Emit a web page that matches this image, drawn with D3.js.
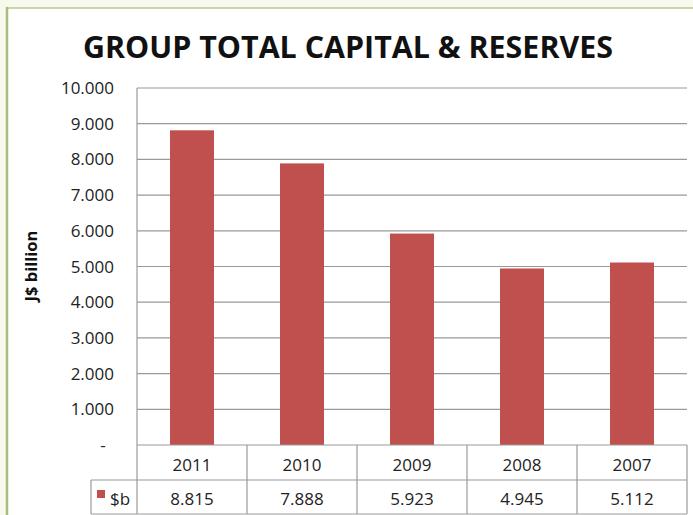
<!DOCTYPE html>
<html>
<head>
<meta charset="utf-8">
<script src="https://cdn.jsdelivr.net/npm/d3@7"></script>
<style>
html,body{margin:0;padding:0;background:#f7f9ec;}
svg{display:block;}
</style>
</head>
<body>
<svg id="chart" width="693" height="515"></svg>
<script>
const categories = ["2011", "2010", "2009", "2008", "2007"];
const values = [8.815, 7.888, 5.923, 4.945, 5.112];
const valueLabels = ["8.815", "7.888", "5.923", "4.945", "5.112"];
const yTicks = [0, 1, 2, 3, 4, 5, 6, 7, 8, 9, 10];
const seriesName = "$b";
const title = "GROUP TOTAL CAPITAL & RESERVES";
const yTitle = "J$ billion";

const svg = d3.select("#chart");
const W = 693, H = 515;
const font = "'Open Sans', 'DejaVu Sans', sans-serif";

// background panel
svg.append("rect").attr("x", 0).attr("y", 0).attr("width", W).attr("height", H).attr("fill", "#f7f9ec");
svg.append("rect").attr("x", 8).attr("y", 9).attr("width", W - 8).attr("height", H - 9).attr("fill", "#ffffff");
svg.append("line").attr("x1", 7).attr("x2", W).attr("y1", 8).attr("y2", 8).attr("stroke", "#c9d5aa").attr("stroke-width", 2);
svg.append("line").attr("x1", 7).attr("x2", 7).attr("y1", 7).attr("y2", H).attr("stroke", "#a9bc80").attr("stroke-width", 2.5);

const plot = {left: 137, right: 687, top: 88, bottom: 445};
const x = d3.scaleBand().domain(categories).range([plot.left, plot.right]).paddingInner(0).paddingOuter(0);
const y = d3.scaleLinear().domain([0, 10]).range([plot.bottom, plot.top]);

// gridlines
svg.append("g").selectAll("line").data(yTicks.filter(d => d > 0)).join("line")
  .attr("x1", plot.left).attr("x2", plot.right)
  .attr("y1", d => y(d)).attr("y2", d => y(d))
  .attr("stroke", "#9a9a9a").attr("stroke-width", 1.2);

// left axis line
svg.append("line").attr("x1", plot.left).attr("x2", plot.left).attr("y1", plot.top).attr("y2", plot.bottom)
  .attr("stroke", "#9a9a9a").attr("stroke-width", 1.2);

// bars
const bw = x.bandwidth() * 0.4;
svg.append("g").selectAll("rect").data(values).join("rect")
  .attr("x", (d, i) => x(categories[i]) + (x.bandwidth() - bw) / 2)
  .attr("width", bw)
  .attr("y", d => y(d))
  .attr("height", d => y(0) - y(d))
  .attr("fill", "#c0504d");

// y tick labels
svg.append("g").selectAll("text").data(yTicks).join("text")
  .attr("x", d => d === 0 ? 103 : 114)
  .attr("y", d => y(d) + 6)
  .attr("text-anchor", d => d === 0 ? "middle" : "end")
  .attr("font-family", font).attr("font-size", 17).attr("fill", "#222")
  .text(d => d === 0 ? "-" : d3.format(".3f")(d));

// data table
const row1Top = plot.bottom, row1Bot = 480, row2Bot = 514;
const tg = svg.append("g").attr("stroke", "#9a9a9a").attr("stroke-width", 1.2).attr("fill", "none");
tg.append("line").attr("x1", plot.left).attr("x2", plot.right).attr("y1", row1Top).attr("y2", row1Top);
tg.append("line").attr("x1", 91).attr("x2", plot.right).attr("y1", row1Bot).attr("y2", row1Bot);
tg.append("line").attr("x1", 91).attr("x2", plot.right).attr("y1", row2Bot).attr("y2", row2Bot);
tg.append("line").attr("x1", 91).attr("x2", 91).attr("y1", row1Bot).attr("y2", row2Bot);
tg.selectAll("line.v").data(categories.map(c => x(c)).concat([plot.right])).join("line")
  .attr("class", "v")
  .attr("x1", d => d).attr("x2", d => d)
  .attr("y1", row1Top).attr("y2", row2Bot);

svg.append("g").selectAll("text").data(categories).join("text")
  .attr("x", d => x(d) + x.bandwidth() / 2).attr("y", 471)
  .attr("text-anchor", "middle").attr("font-family", font).attr("font-size", 17).attr("fill", "#222")
  .text(d => d);
svg.append("g").selectAll("text").data(valueLabels).join("text")
  .attr("x", (d, i) => x(categories[i]) + x.bandwidth() / 2).attr("y", 505)
  .attr("text-anchor", "middle").attr("font-family", font).attr("font-size", 17).attr("fill", "#222")
  .text(d => d);

// legend key
svg.append("rect").attr("x", 97).attr("y", 490).attr("width", 8).attr("height", 8).attr("fill", "#c0504d");
svg.append("text").attr("x", 110).attr("y", 505).attr("font-family", font).attr("font-size", 17).attr("fill", "#222").text(seriesName);

// title
svg.append("text").attr("x", 348).attr("y", 58).attr("text-anchor", "middle")
  .attr("font-family", font).attr("font-weight", "bold").attr("font-size", 31).attr("fill", "#111")
  .attr("textLength", 530).attr("lengthAdjust", "spacingAndGlyphs")
  .text(title);

// y axis title
svg.append("text").attr("transform", "translate(37,266) rotate(-90)")
  .attr("text-anchor", "middle").attr("font-family", font).attr("font-weight", "bold").attr("font-size", 16.5).attr("fill", "#111")
  .text(yTitle);
</script>
</body>
</html>
